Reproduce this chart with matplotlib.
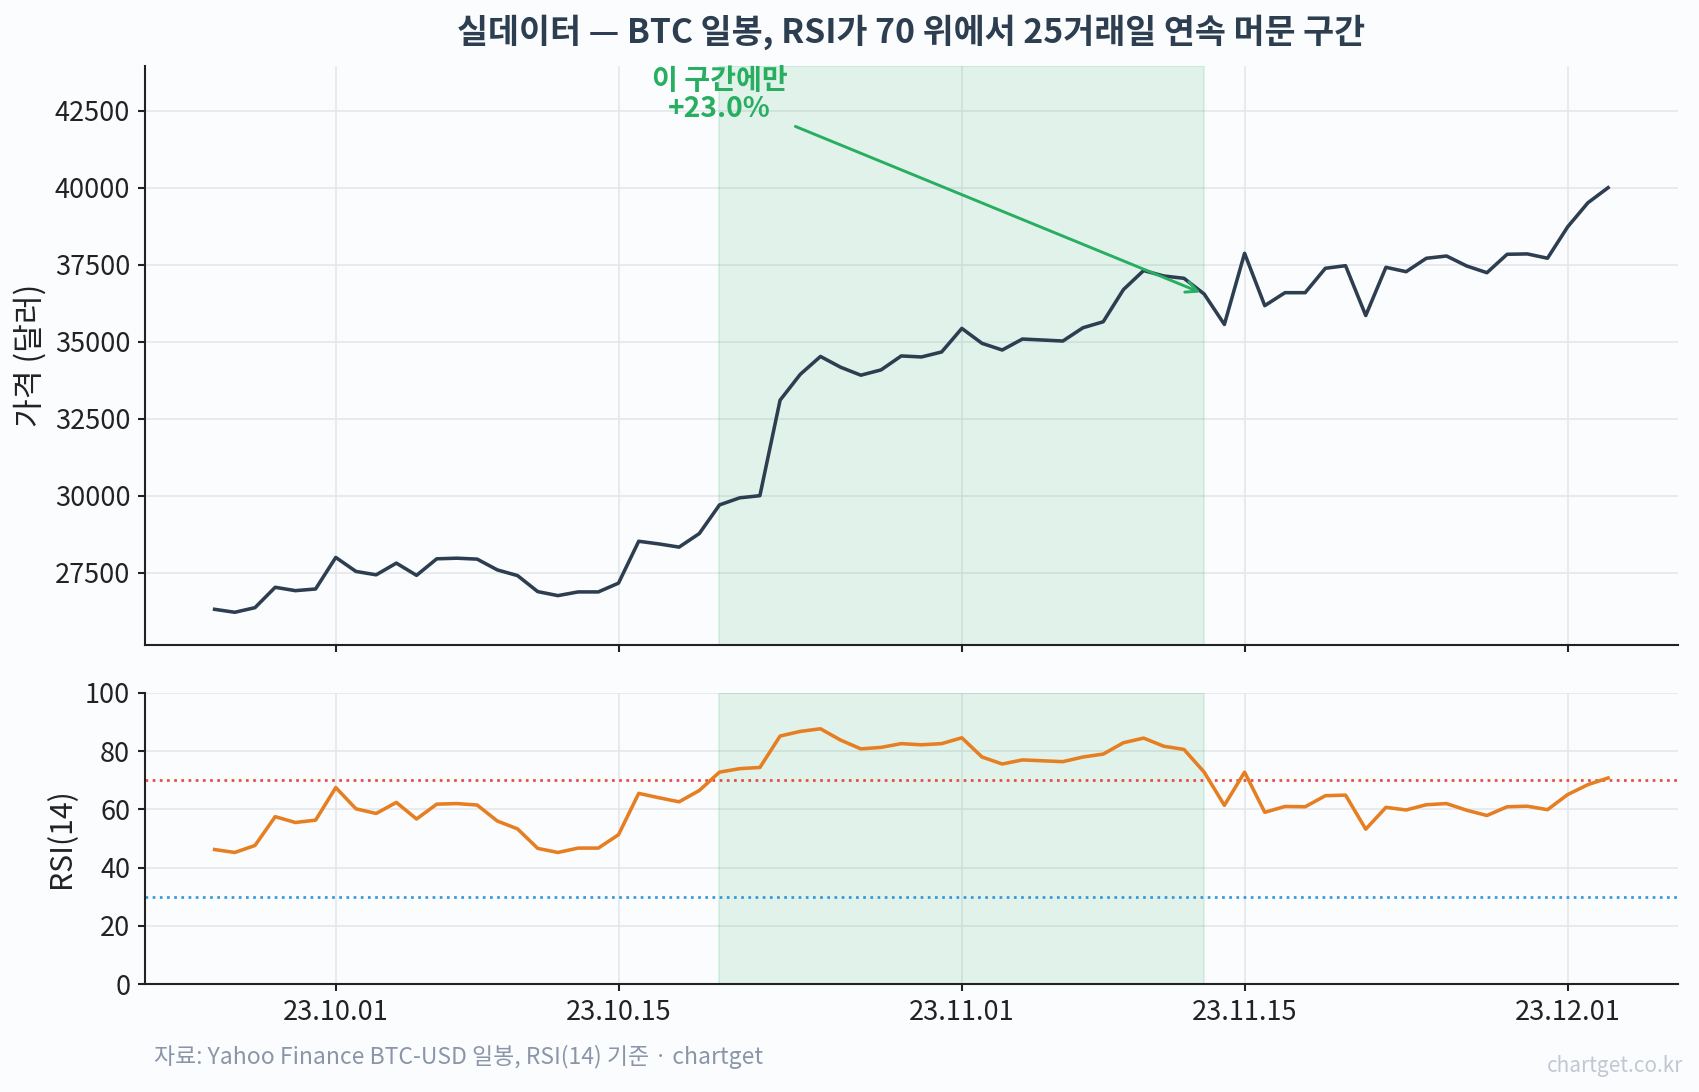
import numpy as np
import pandas as pd
import matplotlib
matplotlib.use("Agg")
import matplotlib.pyplot as plt
import matplotlib.dates as mdates
from matplotlib.ticker import MultipleLocator

plt.rcParams['font.family'] = ['Noto Sans CJK KR', 'DejaVu Sans']
plt.rcParams['axes.unicode_minus'] = False

# daily data, 2023-09-25 .. 2023-12-03
dates = pd.date_range("2023-09-25", "2023-12-03", freq="D")

price = [
    26310, 26214, 26364, 27025, 26916, 26970,                      # 09.25-09.30
    27995, 27540, 27430, 27810, 27413, 27950, 27970, 27940,         # 10.01-10.08
    27590, 27405, 26885, 26755, 26875, 26875, 27160, 28520,         # 10.09-10.16
    28433, 28330, 28770, 29700, 29930, 30000, 33100, 33940,         # 10.17-10.24
    34520, 34170, 33912, 34084, 34537, 34504, 34666, 35431,         # 10.25-11.01
    34946, 34730, 35086, 35054, 35021, 35453, 35647, 36690,         # 11.02-11.09
    37310, 37133, 37058, 36548, 35560, 37870, 36170, 36591,         # 11.10-11.17
    36591, 37383, 37468, 35850, 37415, 37273, 37708, 37782,         # 11.18-11.25
    37458, 37240, 37838, 37850, 37710, 38730, 39510, 40000,         # 11.26-12.03
]

rsi = [
    46.2, 45.2, 47.6, 57.5, 55.5, 56.3,
    67.5, 60.2, 58.6, 62.4, 56.7, 61.8, 62.0, 61.5,
    56.0, 53.3, 46.6, 45.2, 46.7, 46.7, 51.3, 65.5,
    64.0, 62.6, 66.5, 72.8, 74.0, 74.4, 85.2, 86.8,
    87.7, 83.8, 80.8, 81.3, 82.6, 82.2, 82.6, 84.6,
    78.0, 75.6, 77.0, 76.7, 76.4, 78.0, 79.0, 82.9,
    84.5, 81.7, 80.6, 72.8, 61.4, 72.8, 59.0, 61.0,
    60.9, 64.7, 64.9, 53.2, 60.7, 59.8, 61.6, 62.0,
    59.7, 57.9, 60.9, 61.1, 59.9, 65.1, 68.5, 70.8,
]

zone_start = pd.Timestamp("2023-10-20")
zone_end = pd.Timestamp("2023-11-13")
zone_gain = 23.0

bg = "#fbfcfe"
dark = "#2c3e50"
green = "#27ae60"

fig = plt.figure(figsize=(1699 / 150, 1092 / 150), dpi=150, facecolor=bg)
ax1 = fig.add_axes([0.0853, 0.4093, 0.9022, 0.5305], facecolor=bg)
ax2 = fig.add_axes([0.0853, 0.0989, 0.9022, 0.2665], facecolor=bg, sharex=ax1)

for ax in (ax1, ax2):
    ax.spines['top'].set_visible(False)
    ax.spines['right'].set_visible(False)
    for s in ('left', 'bottom'):
        ax.spines[s].set_color("#222222")
        ax.spines[s].set_linewidth(1.0)
    ax.grid(True, color="#e3e5ea", linewidth=0.8, alpha=0.9)
    ax.set_axisbelow(True)
    ax.tick_params(labelsize=13, colors="#222222", length=3.5, width=1.0)
    ax.axvspan(zone_start, zone_end, color=green, alpha=0.12, lw=1.0)

# price
ax1.plot(dates, price, color=dark, lw=1.7, zorder=3)
ax1.set_ylim(25150, 43960)
ax1.yaxis.set_major_locator(MultipleLocator(2500))
ax1.set_ylabel("가격 (달러)", fontsize=15, color="#222222")
ax1.tick_params(axis='x', labelbottom=False)
ax1.set_title("실데이터 — BTC 일봉, RSI가 70 위에서 25거래일 연속 머문 구간",
              fontsize=16.2, fontweight='bold', color=dark, pad=11)

end_price = price[list(dates).index(zone_end)]
ax1.annotate(f"이 구간에만\n+{zone_gain:.1f}%",
             xy=(zone_end, end_price), xytext=(zone_start, 43000),
             ha='center', va='center', fontsize=13.5, fontweight='bold',
             color=green, linespacing=1.0,
             arrowprops=dict(arrowstyle='->', color=green, lw=1.4),
             zorder=5)

# rsi
ax2.plot(dates, rsi, color="#e67e22", lw=1.7, zorder=3)
ax2.axhline(70, color="#e74c3c", ls=':', lw=1.3)
ax2.axhline(30, color="#3498db", ls=':', lw=1.3)
ax2.set_ylim(0, 100)
ax2.yaxis.set_major_locator(MultipleLocator(20))
ax2.set_ylabel("RSI(14)", fontsize=14.5, color="#222222")

ax2.xaxis.set_major_locator(mdates.DayLocator(bymonthday=[1, 15]))
ax2.xaxis.set_major_formatter(mdates.DateFormatter("%y.%m.%d"))

fig.align_ylabels([ax1, ax2])

fig.text(0.0906, 0.032, "자료: Yahoo Finance BTC-USD 일봉, RSI(14) 기준 · chartget",
         fontsize=11, color="#8a96a8", ha='left', va='center')
fig.text(0.991, 0.024, "chartget.co.kr", fontsize=10, color="#c2c8d1",
         ha='right', va='center')

fig.savefig("out.png", dpi=150, facecolor=bg)
